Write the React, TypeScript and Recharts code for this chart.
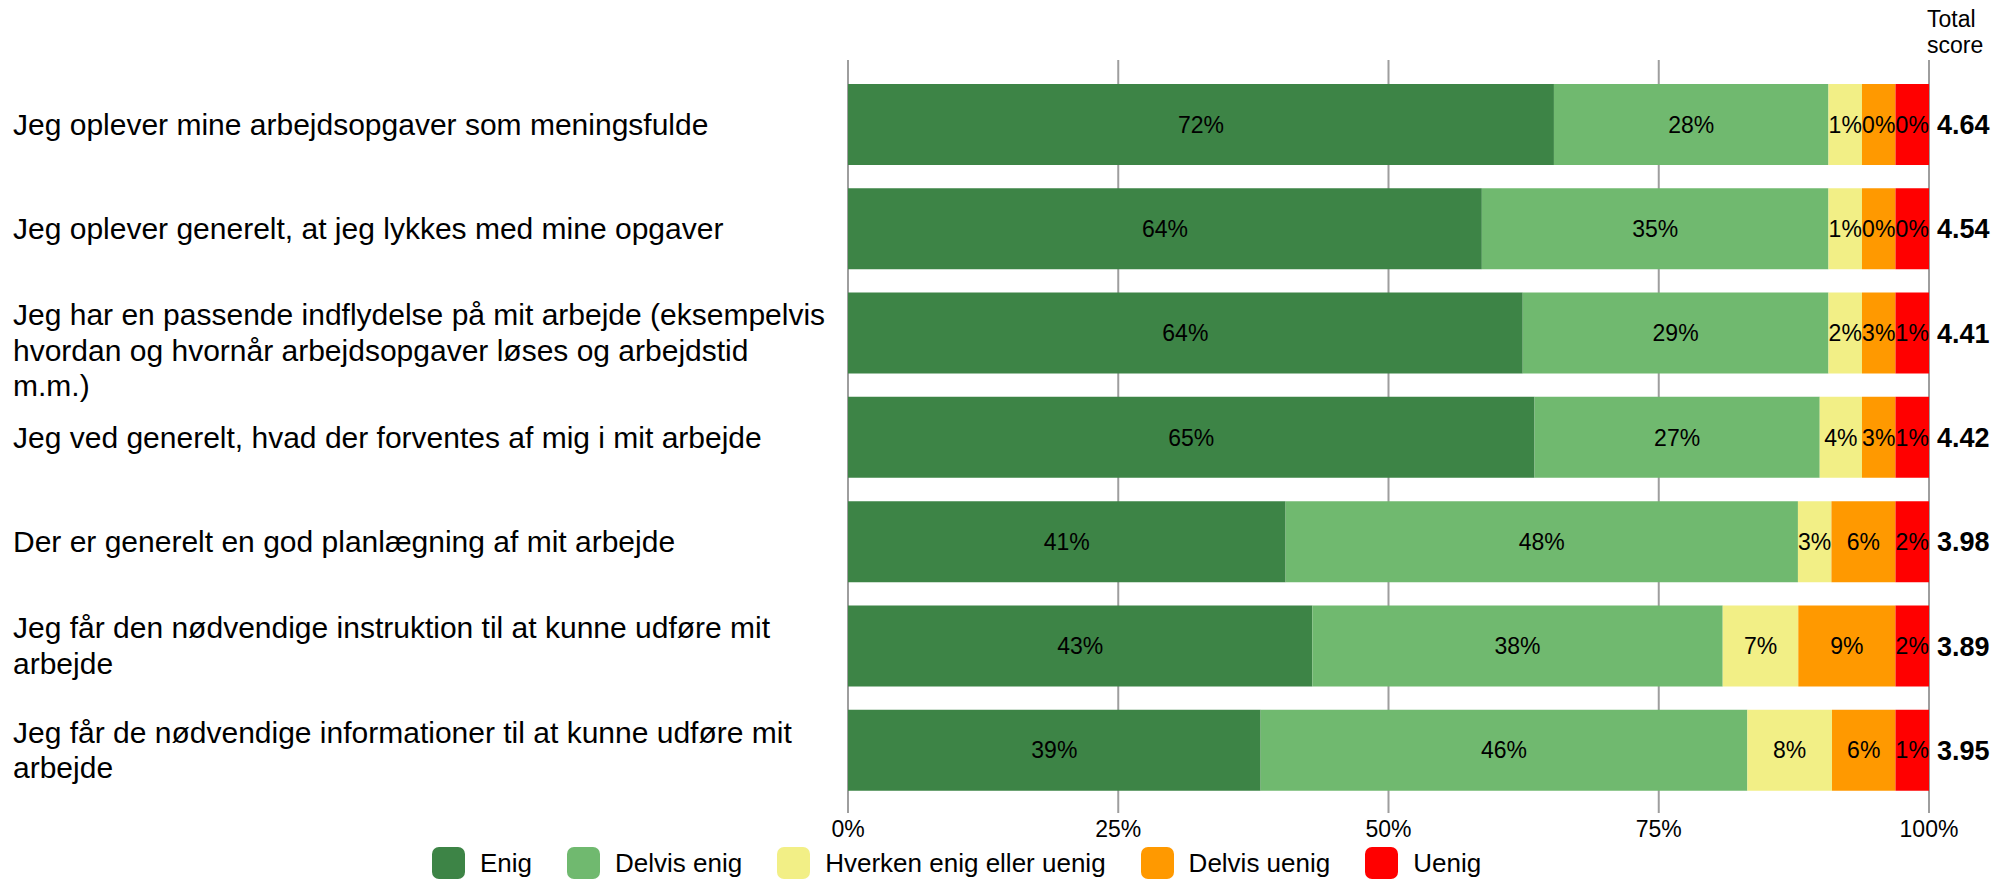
import { BarChart, Bar, XAxis, YAxis, CartesianGrid, LabelList } from "recharts";

const questions = [
  "Jeg oplever mine arbejdsopgaver som meningsfulde",
  "Jeg oplever generelt, at jeg lykkes med mine opgaver",
  "Jeg har en passende indflydelse på mit arbejde (eksempelvis hvordan og hvornår arbejdsopgaver løses og arbejdstid m.m.)",
  "Jeg ved generelt, hvad der forventes af mig i mit arbejde",
  "Der er generelt en god planlægning af mit arbejde",
  "Jeg får den nødvendige instruktion til at kunne udføre mit arbejde",
  "Jeg får de nødvendige informationer til at kunne udføre mit arbejde",
];

const enig = [72, 64, 64, 65, 41, 43, 39];
const delvisEnig = [28, 35, 29, 27, 48, 38, 46];
const hverken = [1, 1, 2, 4, 3, 7, 8];
const delvisUenig = [0, 0, 3, 3, 6, 9, 6];
const uenig = [0, 0, 1, 1, 2, 2, 1];
const totalScore = ["4.64", "4.54", "4.41", "4.42", "3.98", "3.89", "3.95"];

const xTicks = [0, 25, 50, 75, 100];

const SERIES = [
  { key: "enig", name: "Enig", color: "#3d8446", values: enig },
  { key: "delvisEnig", name: "Delvis enig", color: "#70b96f", values: delvisEnig },
  { key: "hverken", name: "Hverken enig eller uenig", color: "#f2ef86", values: hverken },
  { key: "delvisUenig", name: "Delvis uenig", color: "#ff9900", values: delvisUenig },
  { key: "uenig", name: "Uenig", color: "#ff0000", values: uenig },
];

const FONT = "Arial, 'Liberation Sans', sans-serif";

// small answers still get a visible slice, the rest is scaled to fill 100%
const MIN_SEGMENT = 3.1;
function segmentWidths(pcts: number[]): number[] {
  const fixed = new Set<number>();
  for (;;) {
    const freeSum = pcts.reduce((s, p, i) => (fixed.has(i) ? s : s + p), 0);
    const scale = (100 - fixed.size * MIN_SEGMENT) / freeSum;
    let changed = false;
    pcts.forEach((p, i) => {
      if (!fixed.has(i) && p * scale < MIN_SEGMENT) {
        fixed.add(i);
        changed = true;
      }
    });
    if (!changed) return pcts.map((p, i) => (fixed.has(i) ? MIN_SEGMENT : p * scale));
  }
}

const rows = questions.map((q, i) => {
  const w = segmentWidths(SERIES.map((s) => s.values[i]));
  const row: Record<string, string | number> = { name: q, score: totalScore[i] };
  SERIES.forEach((s, j) => {
    row[s.key] = w[j];
    row[s.key + "Label"] = `${s.values[i]}%`;
  });
  return row;
});

let ctx: CanvasRenderingContext2D | null = null;
function wrapText(text: string, maxWidth: number, font: string): string[] {
  if (!ctx) ctx = document.createElement("canvas").getContext("2d");
  ctx!.font = font;
  const words = text.split(" ");
  const lines: string[] = [];
  let cur = "";
  for (const w of words) {
    const test = cur ? cur + " " + w : w;
    if (cur && ctx!.measureText(test).width > maxWidth) {
      lines.push(cur);
      cur = w;
    } else cur = test;
  }
  if (cur) lines.push(cur);
  return lines;
}

const LINE_H = 35.5;
function QuestionTick(props: any) {
  const { y, payload } = props;
  const lines = wrapText(payload.value, 815, `30px Arial`);
  const n = Math.min(lines.length, 2);
  const first = y - ((n - 1) * LINE_H) / 2;
  return (
    <text x={13} y={first} fontSize={30} fill="#000" fontFamily={FONT} textAnchor="start">
      {lines.map((l, i) => (
        <tspan key={i} x={13} y={first + i * LINE_H} dy="0.35em">
          {l}
        </tspan>
      ))}
    </text>
  );
}

export default function App() {
  return (
    <div style={{ position: "absolute", left: 0, top: 0, width: 2011, height: 881, fontFamily: FONT, background: "#fff" }}>
      <BarChart
        layout="vertical"
        width={2011}
        height={881}
        data={rows}
        margin={{ top: 60, right: 82, left: 0, bottom: 28 }}
        barSize={81}
      >
        <CartesianGrid horizontal={false} vertical stroke="#9e9e9e" strokeWidth={2} />
        <XAxis
          type="number"
          domain={[0, 100]}
          ticks={xTicks}
          allowDataOverflow
          tickFormatter={(v) => `${v}%`}
          axisLine={false}
          tickLine={false}
          height={40}
          tick={{ fill: "#000", fontSize: 23, fontFamily: FONT }}
        />
        <YAxis
          type="category"
          dataKey="name"
          width={848}
          axisLine={false}
          tickLine={false}
          padding={{ top: 12, bottom: 11 }}
          tick={<QuestionTick />}
        />
        {SERIES.map((s, idx) => (
          <Bar key={s.key} dataKey={s.key} name={s.name} stackId="a" fill={s.color} isAnimationActive={false}>
            <LabelList dataKey={s.key + "Label"} position="center" fill="#000" fontSize={23} fontFamily={FONT} />
            {idx === SERIES.length - 1 && (
              <LabelList
                dataKey="score"
                position="right"
                offset={8}
                fill="#000"
                fontSize={27}
                fontWeight="bold"
                fontFamily={FONT}
              />
            )}
          </Bar>
        ))}
      </BarChart>

      <div style={{ position: "absolute", left: 1927, top: 6, fontSize: 23, lineHeight: "26px", color: "#000" }}>
        Total
        <br />
        score
      </div>

      <div
        style={{
          position: "absolute",
          left: 432,
          top: 847,
          height: 32,
          display: "flex",
          alignItems: "center",
          fontSize: 26,
          color: "#000",
          whiteSpace: "nowrap",
        }}
      >
        {SERIES.map((s, i) => (
          <div key={s.key} style={{ display: "flex", alignItems: "center", marginRight: i < SERIES.length - 1 ? 35 : 0 }}>
            <div style={{ width: 33, height: 32, borderRadius: 7, background: s.color, marginRight: 15 }} />
            <span>{s.name}</span>
          </div>
        ))}
      </div>
    </div>
  );
}
